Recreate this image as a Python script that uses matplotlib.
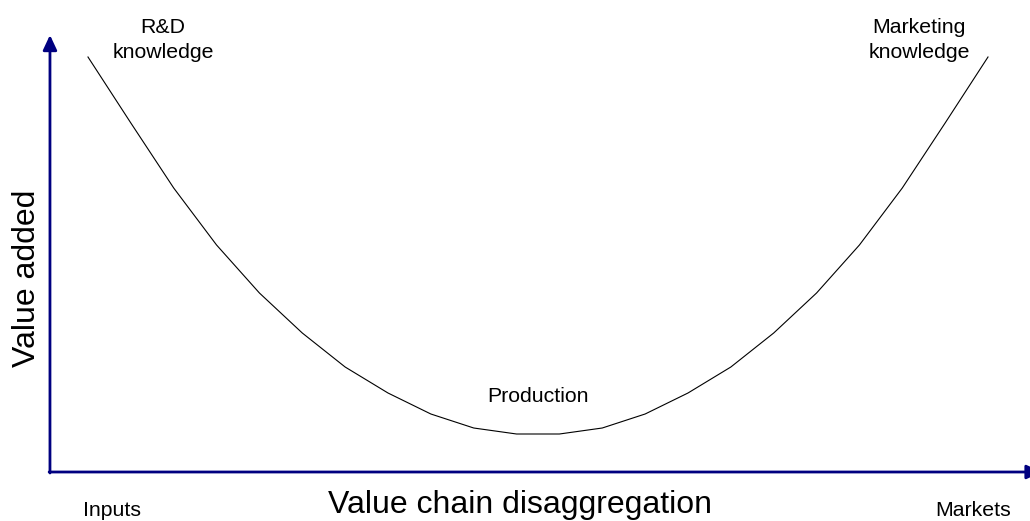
"""Smile curve of value added along the value chain"""
import matplotlib.pyplot as plt

plt.rcParams['font.family'] = ['Liberation Sans', 'DejaVu Sans']

# Value chain stages (left = inputs, right = markets) and value added at each stage
stages = list(range(22))
value_added = [415, 349, 284, 227, 179, 139, 105, 79, 58, 44, 38,
               38, 44, 58, 79, 105, 139, 179, 227, 284, 349, 415]

stage_labels = ['R&D\nknowledge', 'Production', 'Marketing\nknowledge']
stage_label_pos = [1.75, 10.5, 19.4]
stage_label_val = [432, 75, 432]

axis_color = '#000080'

fig = plt.figure(figsize=(10.30, 5.21), dpi=100)
ax = fig.add_axes([0, 0, 1, 1])
ax.set_xlim(-2.053, 21.98)
ax.set_ylim(-49, 472)
ax.axis('off')

# the curve
ax.plot(stages, value_added, color='black', lw=0.8)

# axes with arrow heads
x0 = -0.887
ax.annotate('', xy=(x0, 437), xytext=(x0, -1),
            arrowprops=dict(arrowstyle='-|>,head_length=0.9,head_width=0.42',
                            color=axis_color, lw=2, shrinkA=0, shrinkB=0))
ax.annotate('', xy=(22.25, 0), xytext=(x0 - 0.02, 0),
            arrowprops=dict(arrowstyle='-|>,head_length=0.9,head_width=0.42',
                            color=axis_color, lw=2, shrinkA=0, shrinkB=0),
            annotation_clip=False)

# labels
for lab, px, pv in zip(stage_labels, stage_label_pos, stage_label_val):
    ax.text(px, pv, lab, ha='center', va='center', fontsize=15.3,
            linespacing=1.42)

ax.text(10.08, -33, 'Value chain disaggregation', ha='center', va='center',
        fontsize=23)
ax.text(-1.43, 194, 'Value added', ha='center', va='center', rotation=90,
        fontsize=23)
ax.text(0.56, -38, 'Inputs', ha='center', va='center', fontsize=15.3)
ax.text(20.65, -38, 'Markets', ha='center', va='center', fontsize=15.3)

plt.savefig('out.png', dpi=100)
